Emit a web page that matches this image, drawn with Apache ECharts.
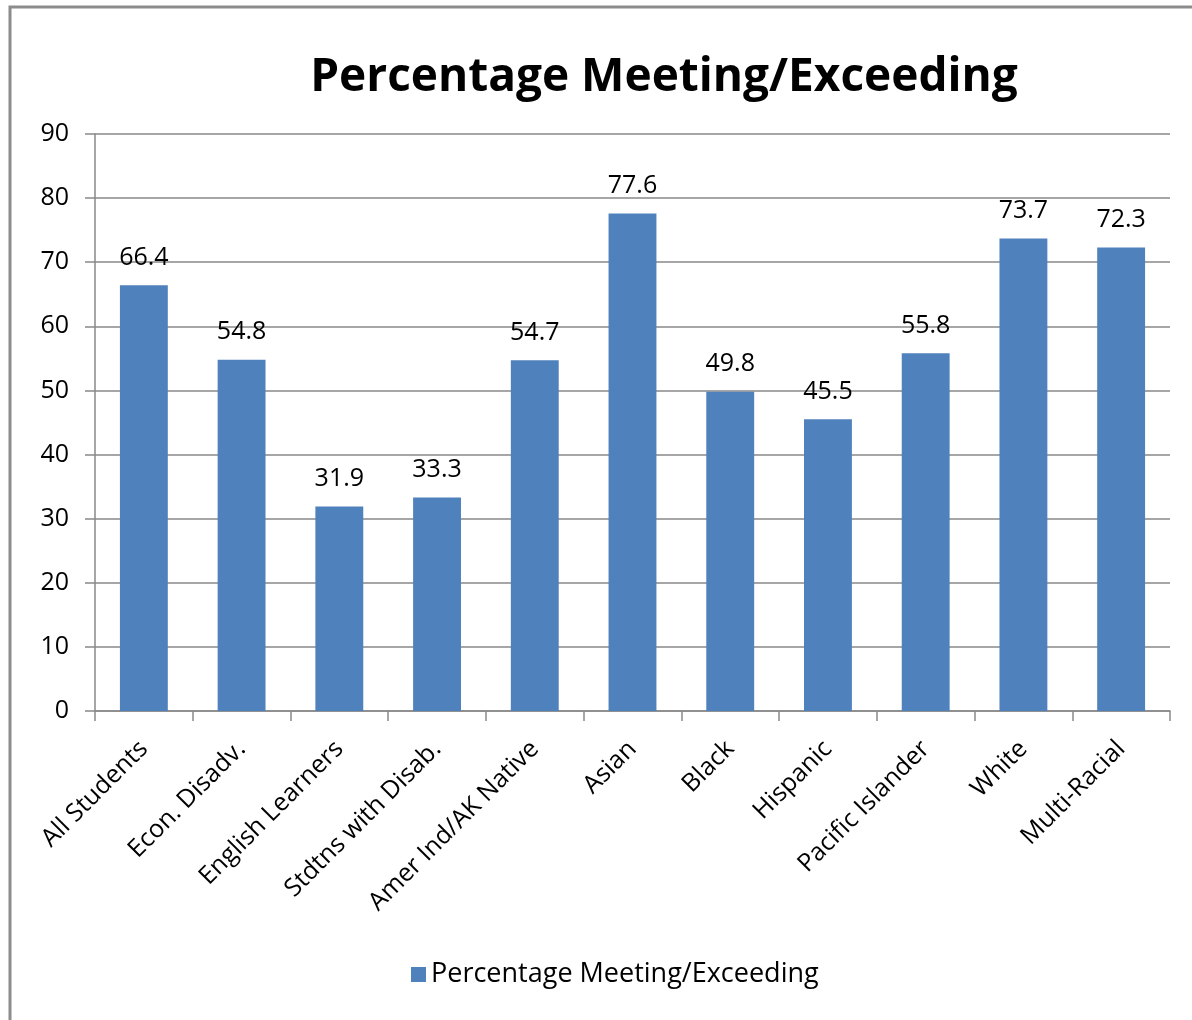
<!DOCTYPE html>
<html>
<head>
<meta charset="utf-8">
<script src="https://cdn.jsdelivr.net/npm/echarts@6/dist/echarts.min.js"></script>
<style>
  html, body { margin: 0; padding: 0; background: #fff; }
  #chart { width: 1192px; height: 1020px; }
</style>
</head>
<body>
<div id="chart"></div>
<script>
const categories = ["All Students", "Econ. Disadv.", "English Learners", "Stdtns with Disab.", "Amer Ind/AK Native", "Asian", "Black", "Hispanic", "Pacific Islander", "White", "Multi-Racial"];
const values = [66.4, 54.8, 31.9, 33.3, 54.7, 77.6, 49.8, 45.5, 55.8, 73.7, 72.3];
const seriesName = "Percentage Meeting/Exceeding";
const FONT = "'Open Sans', sans-serif";

const chart = echarts.init(document.getElementById("chart"), null, { renderer: "canvas" });
chart.setOption({
  animation: false,
  backgroundColor: "#fff",
  title: {
    text: "Percentage Meeting/Exceeding",
    left: 659,
    top: 50,
    textAlign: "center",
    textStyle: { fontFamily: FONT, fontSize: 46, fontWeight: "bold", color: "#000" }
  },
  legend: {
    data: [seriesName],
    bottom: 27,
    left: 406,
    itemWidth: 15,
    itemHeight: 15,
    itemGap: 6,
    icon: "rect",
    textStyle: { fontFamily: FONT, fontSize: 27, color: "#000" }
  },
  grid: { left: 95, right: 22, top: 134, bottom: 309, containLabel: false },
  xAxis: {
    type: "category",
    data: categories,
    axisLine: { lineStyle: { color: "#898989", width: 1.5 } },
    axisTick: { show: true, length: 10, lineStyle: { color: "#898989", width: 1.5 } },
    axisLabel: { rotate: 45, margin: 34, fontFamily: FONT, fontSize: 25, color: "#000", interval: 0 }
  },
  yAxis: {
    type: "value",
    min: 0,
    max: 90,
    interval: 10,
    axisLine: { show: true, lineStyle: { color: "#898989", width: 1.5 } },
    axisTick: { show: true, length: 10, lineStyle: { color: "#898989", width: 1.5 } },
    axisLabel: { margin: 26, fontFamily: FONT, fontSize: 25, color: "#000" },
    splitLine: { lineStyle: { color: "#898989", width: 1.5 } }
  },
  series: [{
    name: seriesName,
    type: "bar",
    data: values,
    barWidth: "49%",
    itemStyle: { color: "#4F81BD" },
    label: { show: true, position: "top", distance: 15, fontFamily: FONT, fontSize: 25, color: "#000" }
  }],
  graphic: [{
    type: "polyline",
    shape: { points: [[10, 1020], [10, 7], [1192, 7]] },
    style: { stroke: "#8c8c8c", lineWidth: 3, fill: null },
    silent: true
  }]
});
</script>
</body>
</html>
